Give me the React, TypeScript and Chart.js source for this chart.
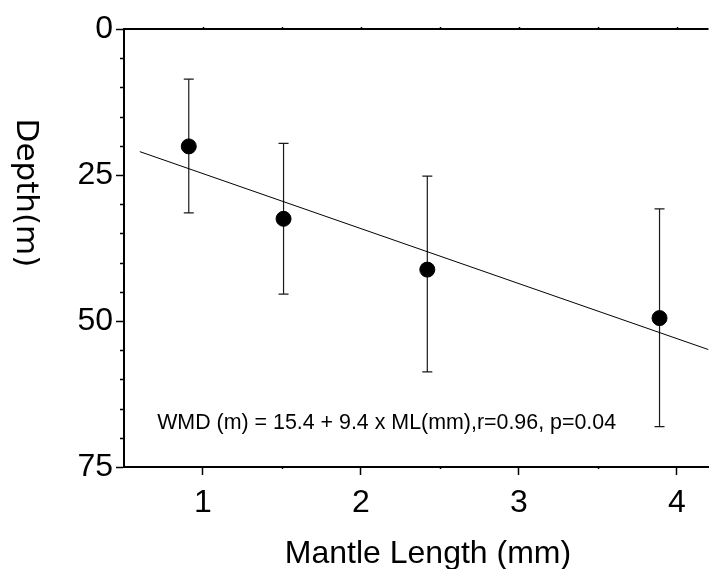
import React, { useEffect, useRef } from "react";
import { Chart, registerables } from "chart.js";

Chart.register(...registerables);

const mantleLength = [0.91, 1.51, 2.42, 3.89];
const depthMean = [20.1, 32.5, 41.2, 49.5];
const depthLow = [8.6, 19.6, 25.2, 30.8];
const depthHigh = [31.5, 45.4, 58.7, 68.1];

const fitX = [0.6, 4.2];
const fitY = [21.0, 54.9];

const xTicks = [1, 2, 3, 4];
const yTicks = [0, 25, 50, 75];
const xMinorTicks = [1.5, 2.5, 3.5];
const yMinorTicks = [5, 10, 15, 20, 30, 35, 40, 45, 55, 60, 65, 70];

const xTitle = "Mantle Length (mm)";
const yTitle = "Depth(m)";
const annotationText = "WMD (m) = 15.4 + 9.4 x ML(mm),r=0.96, p=0.04";

const FONT = "'Liberation Sans', Arial, Helvetica, sans-serif";

const customPlugin = {
  id: "customDraw",
  beforeDatasetsDraw(chart: any) {
    const { ctx, scales } = chart;
    const xs = scales.x;
    const ys = scales.y;
    ctx.save();
    ctx.strokeStyle = "#1a1a1a";
    ctx.lineWidth = 1.2;
    for (let i = 0; i < mantleLength.length; i++) {
      const px = xs.getPixelForValue(mantleLength[i]);
      const p1 = ys.getPixelForValue(depthLow[i]);
      const p2 = ys.getPixelForValue(depthHigh[i]);
      ctx.beginPath();
      ctx.moveTo(px, p1);
      ctx.lineTo(px, p2);
      ctx.moveTo(px - 5, p1);
      ctx.lineTo(px + 5, p1);
      ctx.moveTo(px - 5, p2);
      ctx.lineTo(px + 5, p2);
      ctx.stroke();
    }
    ctx.restore();
  },
  afterDraw(chart: any) {
    const { ctx, scales, chartArea } = chart;
    const xs = scales.x;
    const ys = scales.y;
    ctx.save();
    // top border
    ctx.strokeStyle = "#000";
    ctx.lineWidth = 2;
    ctx.beginPath();
    ctx.moveTo(chartArea.left - 1, chartArea.top);
    ctx.lineTo(chartArea.right, chartArea.top);
    ctx.stroke();
    // minor ticks
    ctx.lineWidth = 1.5;
    ctx.beginPath();
    for (const v of yMinorTicks) {
      const py = Math.round(ys.getPixelForValue(v)) + 0.5;
      ctx.moveTo(chartArea.left - 4, py);
      ctx.lineTo(chartArea.left, py);
    }
    for (const v of xMinorTicks) {
      const px = Math.round(xs.getPixelForValue(v)) + 0.5;
      ctx.moveTo(px, chartArea.bottom);
      ctx.lineTo(px, chartArea.bottom + 2);
      ctx.moveTo(px, chartArea.top);
      ctx.lineTo(px, chartArea.top - 2);
    }
    for (const v of xTicks) {
      const px = Math.round(xs.getPixelForValue(v)) + 0.5;
      ctx.moveTo(px, chartArea.top);
      ctx.lineTo(px, chartArea.top - 2);
    }
    ctx.stroke();
    // annotation
    ctx.fillStyle = "#000";
    ctx.font = `21.4px ${FONT}`;
    ctx.textAlign = "left";
    ctx.textBaseline = "alphabetic";
    ctx.fillText(annotationText, xs.getPixelForValue(0.71), ys.getPixelForValue(68.5));
    // x title
    ctx.font = `32px ${FONT}`;
    ctx.textAlign = "center";
    ctx.fillText(xTitle, chartArea.left + 304, chartArea.bottom + 96);
    // y title (rotated clockwise)
    ctx.translate(25, chartArea.top + 164);
    ctx.rotate(Math.PI / 2);
    ctx.font = `31px 'DejaVu Sans', ${FONT}`;
    ctx.textAlign = "center";
    ctx.textBaseline = "middle";
    ctx.fillText(yTitle, 0, 0);
    ctx.restore();
  },
};

export default function App() {
  const ref = useRef<HTMLCanvasElement | null>(null);
  useEffect(() => {
    if (!ref.current) return;
    const chart = new Chart(ref.current, {
      type: "scatter",
      data: {
        datasets: [
          {
            type: "scatter",
            label: "mean",
            data: mantleLength.map((x, i) => ({ x, y: depthMean[i] })),
            backgroundColor: "#000",
            borderColor: "#000",
            pointRadius: 7.5,
            pointHoverRadius: 7.5,
            order: 0,
          },
          {
            type: "line",
            label: "fit",
            data: fitX.map((x, i) => ({ x, y: fitY[i] })),
            borderColor: "#000",
            borderWidth: 1,
            pointRadius: 0,
            fill: false,
            order: 1,
          } as any,
        ],
      },
      options: {
        responsive: false,
        animation: false,
        events: [],
        layout: { padding: { left: 0, right: 0, top: 29, bottom: 0 } },
        plugins: { legend: { display: false }, tooltip: { enabled: false } },
        scales: {
          x: {
            type: "linear",
            min: 0.5,
            max: 4.2,
            afterFit: (s: any) => {
              s.height = 102;
            },
            afterBuildTicks: (s: any) => {
              s.ticks = xTicks.map((v) => ({ value: v }));
            },
            border: { display: true, color: "#000", width: 2 },
            grid: { drawOnChartArea: false, tickLength: 8, tickWidth: 1.5, tickColor: "#000" },
            ticks: { color: "#000", font: { family: FONT, size: 32 }, padding: 9, maxRotation: 0 },
          },
          y: {
            type: "linear",
            reverse: true,
            min: 0,
            max: 75,
            afterFit: (s: any) => {
              s.width = 124;
            },
            afterBuildTicks: (s: any) => {
              s.ticks = yTicks.map((v) => ({ value: v }));
            },
            border: { display: true, color: "#000", width: 2 },
            grid: { drawOnChartArea: false, tickLength: 8, tickWidth: 1.5, tickColor: "#000" },
            ticks: { color: "#000", font: { family: FONT, size: 32 }, padding: 3 },
          },
        },
      },
      plugins: [customPlugin],
    });
    return () => chart.destroy();
  }, []);
  return (
    <div style={{ position: "absolute", left: 0, top: 0, width: 709, height: 569, overflow: "hidden", background: "#fff" }}>
      <canvas ref={ref} width={717} height={569} style={{ display: "block" }} />
    </div>
  );
}
